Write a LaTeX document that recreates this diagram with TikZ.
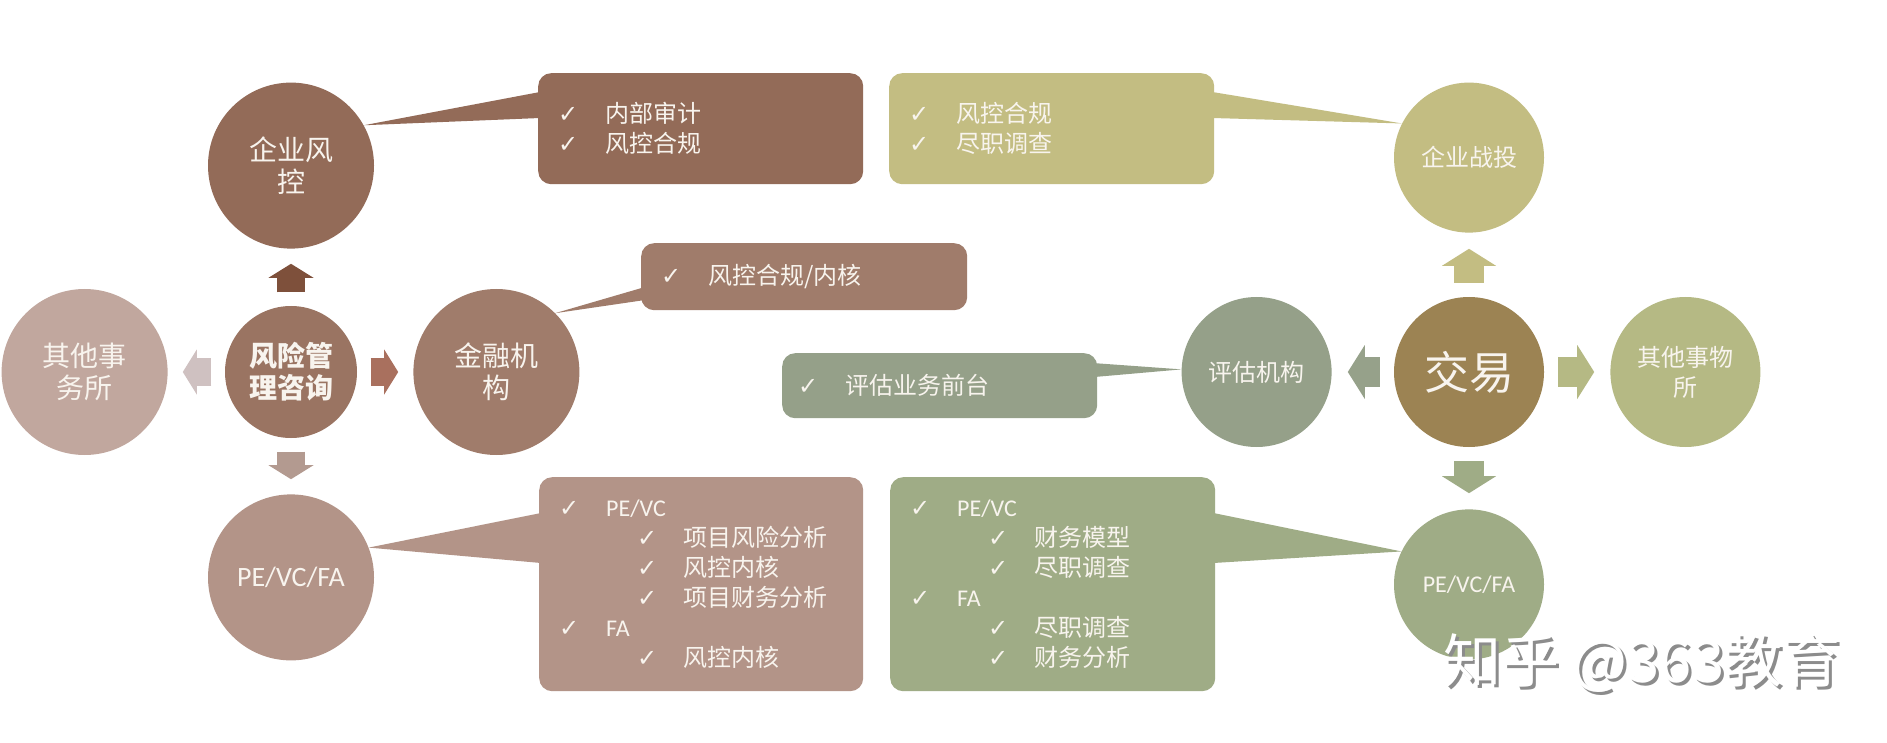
\documentclass[tikz,border=0pt]{standalone}
\usepackage{fontspec}
\setmainfont{Carlito}
\newfontfamily\cjk{Noto Sans CJK SC}
\newfontfamily\chkfont{DejaVu Sans}
\usetikzlibrary{arrows.meta,positioning,calc}
\definecolor{txtcol}{HTML}{F8F4EE}
\definecolor{corpbrown}{HTML}{936B58}
\definecolor{riskbrown}{HTML}{9A7462}
\definecolor{finbrown}{HTML}{A07C6B}
\definecolor{firmpink}{HTML}{C1A79E}
\definecolor{pevcbrown}{HTML}{B39488}
\definecolor{stratolive}{HTML}{C3BD82}
\definecolor{dealbrown}{HTML}{9C8353}
\definecolor{evalgreen}{HTML}{95A089}
\definecolor{firmolive}{HTML}{B5B984}
\definecolor{pevcgreen}{HTML}{9FAC86}
\definecolor{upbrown}{HTML}{7E503B}
\definecolor{leftpink}{HTML}{CFC1C1}
\definecolor{rightbrown}{HTML}{A9705E}
\definecolor{downbrown}{HTML}{B39A90}
\definecolor{leftgreen}{HTML}{96A18A}
\newcommand\chk{{\chkfont\fontsize{24}{30}\selectfont ✓}}
\newcommand\lat[1]{{\rmfamily #1}}
\newcommand\itemA[1]{\makebox[47pt][l]{\chk}#1}
\newcommand\itemB[1]{\hspace*{78pt}\makebox[46pt][l]{\chk}#1}

\begin{document}
\begin{tikzpicture}[x=1pt, y=-1pt, node distance=57pt,
  bubble/.style={circle, inner sep=0pt, align=center, text=txtcol, font=\cjk\fontsize{28}{32}\selectfont},
  bigbub/.style={bubble, minimum size=166pt},
  smlbub/.style={bubble, minimum size=150pt, font=\cjk\fontsize{24}{30}\selectfont},
  callout/.style={rounded corners=13pt, anchor=north west, inner xsep=20pt, inner ysep=0pt, align=left, text=txtcol, font=\cjk\fontsize{24}{30}\selectfont},
  blkL/.style={line width=28pt, -{Triangle[length=14pt, width=45pt, line width=0pt]}, shorten <=13.5pt, shorten >=15pt},
  blkR/.style={line width=30pt, -{Triangle[length=17pt, width=54pt, line width=0pt]}, shorten <=14pt, shorten >=16pt}]
\path[fill=white] (0,0) rectangle (1887,743);
\node[bubble, minimum size=132pt, fill=riskbrown, font=\cjk\bfseries\fontsize{28}{32}\selectfont] (risk) at (291,372) {风险管\\理咨询};
\node[bigbub, fill=corpbrown, above=of risk] (corp) {企业风\\控};
\node[bigbub, fill=firmpink, left=of risk] (firmL) {其他事\\务所};
\node[bigbub, fill=finbrown, right=56pt of risk] (fin) {金融机\\构};
\node[bigbub, fill=pevcbrown, below=56pt of risk, font=\rmfamily\fontsize{28}{32}\selectfont] (pevcL) {PE/VC/FA};
\draw[blkL, upbrown] (risk) -- (corp); \draw[blkL, leftpink] (risk) -- (firmL);
\draw[blkL, rightbrown] (risk) -- (fin); \draw[blkL, downbrown] (risk) -- (pevcL);

\node[smlbub, fill=dealbrown, font=\cjk\fontsize{45}{50}\selectfont] (deal) at (1469,372) {交易};
\node[smlbub, fill=stratolive, above=64pt of deal] (strat) {企业战投};
\node[smlbub, fill=evalgreen, left=62pt of deal] (eval) {评估机构};
\node[smlbub, fill=firmolive, right=66pt of deal] (firmR) {其他事物\\所};
\node[smlbub, fill=pevcgreen, below=62pt of deal, font=\rmfamily\fontsize{24}{30}\selectfont] (pevcR) {PE/VC/FA};
\draw[blkR, stratolive] (deal) -- (strat); \draw[blkR, leftgreen] (deal) -- (eval);
\draw[blkR, firmolive] (deal) -- (firmR); \draw[blkR, pevcgreen] (deal) -- (pevcR);

\node[callout, fill=corpbrown, minimum height=111pt, text width=285pt] (auditbox) at (538,73) {\itemA{内部审计}\\\itemA{风控合规}};
\fill[corpbrown] ($(auditbox.north west)+(2,19)$) -- (corp.29) -- ($(auditbox.north west)+(2,45)$) -- cycle;
\node[callout, fill=stratolive, minimum height=111pt, text width=285pt] (stratbox) at (889,73) {\itemA{风控合规}\\\itemA{尽职调查}};
\fill[stratolive] ($(stratbox.north east)+(-2,19)$) -- (strat.153) -- ($(stratbox.north east)+(-2,45)$) -- cycle;
\node[callout, fill=finbrown, minimum height=67pt, text width=286pt] (finbox) at (641,243) {\itemA{风控合规/内核}};
\fill[finbrown] ($(finbox.north west)+(4,44)$) -- (fin.45) -- ($(finbox.north west)+(4,57)$) -- cycle;
\node[callout, fill=evalgreen, minimum height=65pt, text width=283pt, inner xsep=16pt] (evalbox) at (782,353) {\itemA{评估业务前台}};
\fill[evalgreen] ($(evalbox.north east)+(-5,10)$) -- (eval.178) -- ($(evalbox.north east)+(-3,24)$) -- cycle;
\node[callout, fill=pevcbrown, minimum height=214pt, text width=284pt] (pevcLbox) at (539,477) {\itemA{\lat{PE/VC}}\\\itemB{项目风险分析}\\\itemB{风控内核}\\\itemB{项目财务分析}\\\itemA{\lat{FA}}\\\itemB{风控内核}};
\fill[pevcbrown] ($(pevcLbox.north west)+(2,36)$) -- (pevcL.21) -- ($(pevcLbox.north west)+(2,86)$) -- cycle;
\node[callout, fill=pevcgreen, minimum height=214pt, text width=285pt] (pevcRbox) at (890,477) {\itemA{\lat{PE/VC}}\\\itemB{财务模型}\\\itemB{尽职调查}\\\itemA{\lat{FA}}\\\itemB{尽职调查}\\\itemB{财务分析}};
\fill[pevcgreen] ($(pevcRbox.north east)+(-2,36)$) -- (pevcR.154) -- ($(pevcRbox.north east)+(-2,86)$) -- cycle;

\node[font=\cjk\fontsize{58}{60}\selectfont, text=black!45] (wmshade) at (1645,666) {知乎 @363教育};
\node[font=\cjk\fontsize{58}{60}\selectfont, text=white] (wm) at (1642,663) {知乎 @363教育};
\end{tikzpicture}
\end{document}
